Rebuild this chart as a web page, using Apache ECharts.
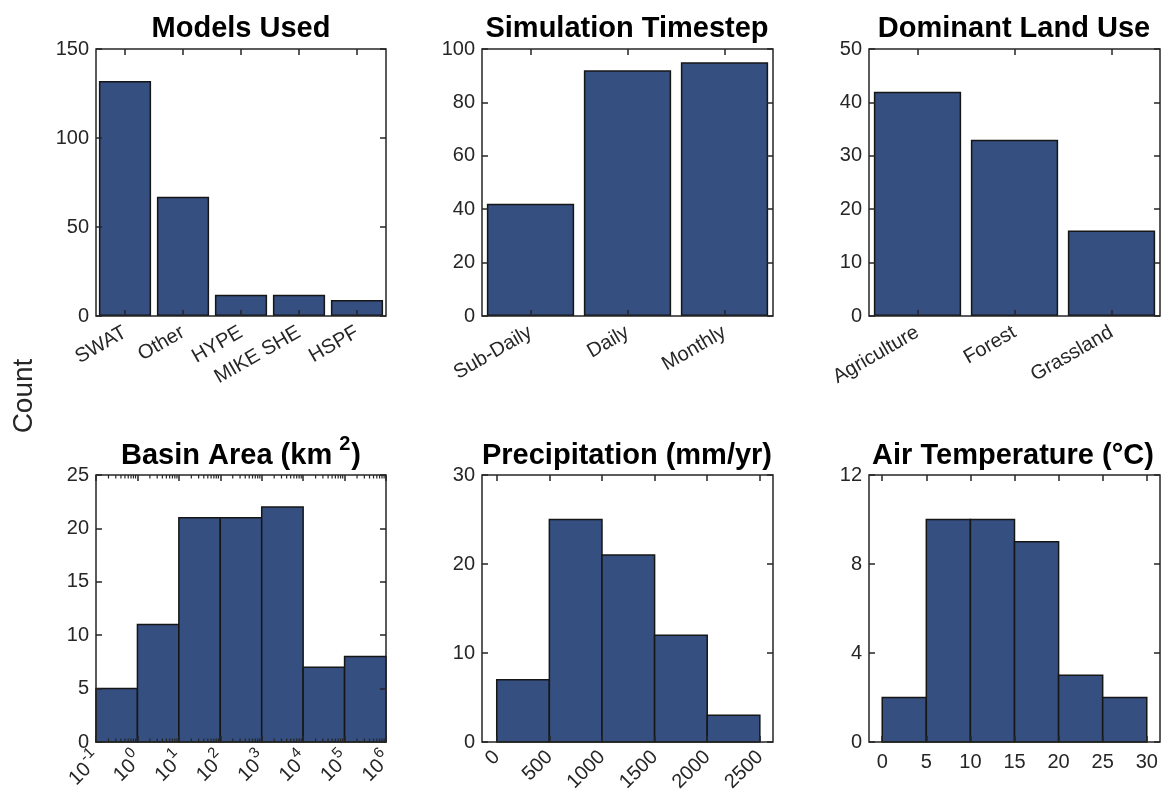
<!DOCTYPE html>
<html>
<head>
<meta charset="utf-8">
<script src="https://cdn.jsdelivr.net/npm/echarts@6/dist/echarts.min.js"></script>
<style>
  html, body { margin: 0; padding: 0; background: #ffffff; }
  #chart { width: 1164px; height: 791px; }
</style>
</head>
<body>
<div id="chart"></div>
<script>
// ---- data ----
const modelNames = ['SWAT', 'Other', 'HYPE', 'MIKE SHE', 'HSPF'];
const modelCounts = [132, 67, 12, 12, 9];
const modelTicks = [0, 50, 100, 150];

const timestepNames = ['Sub-Daily', 'Daily', 'Monthly'];
const timestepCounts = [42, 92, 95];
const timestepTicks = [0, 20, 40, 60, 80, 100];

const landUseNames = ['Agriculture', 'Forest', 'Grassland'];
const landUseCounts = [42, 33, 16];
const landUseTicks = [0, 10, 20, 30, 40, 50];

// basin area bins, edges given as log10(km²)
const basinLogEdges = [-1, 0, 1, 2, 3, 4, 5, 6];
const basinCounts = [5, 11, 21, 21, 22, 7, 8];
const basinCountTicks = [0, 5, 10, 15, 20, 25];

const precipEdges = [0, 500, 1000, 1500, 2000, 2500];
const precipCounts = [7, 25, 21, 12, 3];
const precipTicks = [0, 500, 1000, 1500, 2000, 2500];
const precipCountTicks = [0, 10, 20, 30];

const tempEdges = [0, 5, 10, 15, 20, 25, 30];
const tempCounts = [2, 10, 10, 9, 3, 2];
const tempTicks = [0, 5, 10, 15, 20, 25, 30];
const tempCountTicks = [0, 4, 8, 12];

// ---- styling ----
const FONT = '"Liberation Sans", Arial, Helvetica, sans-serif';
const INK = '#262626';
const BAR_FILL = '#344f80';
const BAR_EDGE = '#161616';
const TICK_LEN = 6;
const LABEL_SIZE = 20;

const frames = [
  { left: 96,  top: 49,  width: 290, height: 267 },
  { left: 482, top: 49,  width: 291, height: 267 },
  { left: 869, top: 49,  width: 291, height: 267 },
  { left: 96,  top: 475, width: 290, height: 267 },
  { left: 482, top: 475, width: 291, height: 267 },
  { left: 869, top: 475, width: 291, height: 267 }
];

const tickStyle = { color: INK, width: 1.5 };
const hiddenLine = { show: false, onZero: false };
const xAxes = [];
const yAxes = [];

function addCountAxis(gi, ticks) {
  const base = {
    type: 'value', gridIndex: gi,
    min: ticks[0], max: ticks[ticks.length - 1], interval: ticks[1] - ticks[0],
    splitLine: { show: false }, axisLine: hiddenLine, z: 10,
    axisTick: { show: true, inside: true, length: TICK_LEN, lineStyle: tickStyle }
  };
  yAxes.push(Object.assign({}, base, {
    position: 'left',
    axisLabel: { color: INK, fontSize: LABEL_SIZE, fontFamily: FONT, margin: 7, hideOverlap: false }
  }));
  yAxes.push(Object.assign({}, base, { position: 'right', axisLabel: { show: false } }));
}

function addCategoryAxis(gi, names) {
  const base = {
    type: 'category', gridIndex: gi, data: names,
    splitLine: { show: false }, axisLine: hiddenLine, z: 10,
    axisTick: { show: true, inside: true, alignWithLabel: true, interval: 0, length: TICK_LEN, lineStyle: tickStyle }
  };
  xAxes.push(Object.assign({}, base, {
    position: 'bottom',
    axisLabel: { interval: 0, rotate: 30, color: INK, fontSize: LABEL_SIZE, fontFamily: FONT, margin: 15, hideOverlap: false }
  }));
  xAxes.push(Object.assign({}, base, { position: 'top', axisLabel: { show: false } }));
}

function addBinAxis(gi, lo, hi, ticks, labelExtra) {
  const base = {
    type: 'value', gridIndex: gi, min: lo, max: hi,
    splitLine: { show: false }, axisLine: hiddenLine, z: 10,
    axisTick: { show: true, inside: true, length: TICK_LEN, customValues: ticks, lineStyle: tickStyle }
  };
  xAxes.push(Object.assign({}, base, {
    position: 'bottom',
    axisLabel: Object.assign({
      customValues: ticks, color: INK, fontSize: LABEL_SIZE, fontFamily: FONT, margin: 9, hideOverlap: false,
      formatter: v => String(v)
    }, labelExtra || {})
  }));
  xAxes.push(Object.assign({}, base, { position: 'top', axisLabel: { show: false } }));
}

addCategoryAxis(0, modelNames);     addCountAxis(0, modelTicks);
addCategoryAxis(1, timestepNames);  addCountAxis(1, timestepTicks);
addCategoryAxis(2, landUseNames);   addCountAxis(2, landUseTicks);

addBinAxis(3, basinLogEdges[0], basinLogEdges[basinLogEdges.length - 1], basinLogEdges, {
  rotate: 45, margin: 12,
  formatter: v => '{b|10}{s|' + Math.round(v) + '}',
  rich: {
    b: { fontSize: LABEL_SIZE, fontFamily: FONT, color: INK, verticalAlign: 'bottom' },
    s: { fontSize: 15, fontFamily: FONT, color: INK, verticalAlign: 'bottom', padding: [0, 0, 11, 1] }
  }
});
addCountAxis(3, basinCountTicks);

addBinAxis(4, -140, 2625, precipTicks, { rotate: 45, margin: 12 });
addCountAxis(4, precipCountTicks);

addBinAxis(5, -1.5, 31.5, tempTicks, { margin: 10 });
addCountAxis(5, tempCountTicks);

function barSeries(gi, values) {
  return {
    type: 'bar', xAxisIndex: 2 * gi, yAxisIndex: 2 * gi, data: values,
    barCategoryGap: '10%', silent: true,
    itemStyle: { color: BAR_FILL, borderColor: BAR_EDGE, borderWidth: 1.5 }
  };
}

function histSeries(gi, edges, counts) {
  const data = counts.map((c, i) => [edges[i], edges[i + 1], c]);
  return {
    type: 'custom', xAxisIndex: 2 * gi, yAxisIndex: 2 * gi, data: data, silent: true,
    encode: { x: [0, 1], y: 2 },
    renderItem: (params, api) => {
      const topLeft = api.coord([api.value(0), api.value(2)]);
      const bottomRight = api.coord([api.value(1), 0]);
      return {
        type: 'rect',
        shape: { x: topLeft[0], y: topLeft[1], width: bottomRight[0] - topLeft[0], height: bottomRight[1] - topLeft[1] },
        style: { fill: BAR_FILL, stroke: BAR_EDGE, lineWidth: 1.5 }
      };
    }
  };
}

// minor ticks of the logarithmic area axis (2..9 within each decade)
const logMinorTicks = [];
for (let d = 0; d < basinLogEdges.length - 1; d++) {
  for (let k = 2; k <= 9; k++) logMinorTicks.push([basinLogEdges[d] + Math.log10(k)]);
}
const basinTop = basinCountTicks[basinCountTicks.length - 1];
const minorTickSeries = {
  type: 'custom', xAxisIndex: 6, yAxisIndex: 6, data: logMinorTicks, silent: true, z: 11,
  encode: { x: 0 },
  renderItem: (params, api) => {
    const b = api.coord([api.value(0), 0]);
    const t = api.coord([api.value(0), basinTop]);
    const st = { stroke: INK, lineWidth: 1.2 };
    return {
      type: 'group',
      children: [
        { type: 'line', shape: { x1: b[0], y1: b[1], x2: b[0], y2: b[1] - 3.5 }, style: st },
        { type: 'line', shape: { x1: t[0], y1: t[1], x2: t[0], y2: t[1] + 3.5 }, style: st }
      ]
    };
  }
};

const titleFont = 'bold 29px ' + FONT;
function title(text, x, y) {
  return { type: 'text', x: x, y: y, z: 20,
    style: { text: text, font: titleFont, fill: '#000000', align: 'center', verticalAlign: 'middle' } };
}

const option = {
  animation: false,
  backgroundColor: '#ffffff',
  grid: frames.map(f => Object.assign({}, f, {
    show: true, borderColor: INK, borderWidth: 1.5, backgroundColor: 'transparent',
    containLabel: false, outerBoundsMode: 'none', z: 8
  })),
  xAxis: xAxes,
  yAxis: yAxes,
  series: [
    barSeries(0, modelCounts),
    barSeries(1, timestepCounts),
    barSeries(2, landUseCounts),
    histSeries(3, basinLogEdges, basinCounts),
    minorTickSeries,
    histSeries(4, precipEdges, precipCounts),
    histSeries(5, tempEdges, tempCounts)
  ],
  graphic: [
    title('Models Used', 241, 29),
    title('Simulation Timestep', 627, 29),
    title('Dominant Land Use', 1014, 29),
    {
      type: 'text', x: 241, y: 452, z: 20,
      style: {
        text: '{t|Basin Area (km}{s|2}{t|)}',
        align: 'center', verticalAlign: 'middle',
        rich: {
          t: { font: titleFont, fill: '#000000', verticalAlign: 'bottom' },
          s: { font: 'bold 20px ' + FONT, fill: '#000000', verticalAlign: 'bottom', padding: [0, 1, 16, 7] }
        }
      }
    },
    title('Precipitation (mm/yr)', 627, 456),
    title('Air Temperature (°C)', 1013, 456),
    {
      type: 'text', x: 24, y: 396, rotation: Math.PI / 2, z: 20,
      style: { text: 'Count', font: '28px ' + FONT, fill: INK, align: 'center', verticalAlign: 'middle' }
    }
  ]
};

const chart = echarts.init(document.getElementById('chart'), null, { renderer: 'canvas' });
chart.setOption(option);
</script>
</body>
</html>
